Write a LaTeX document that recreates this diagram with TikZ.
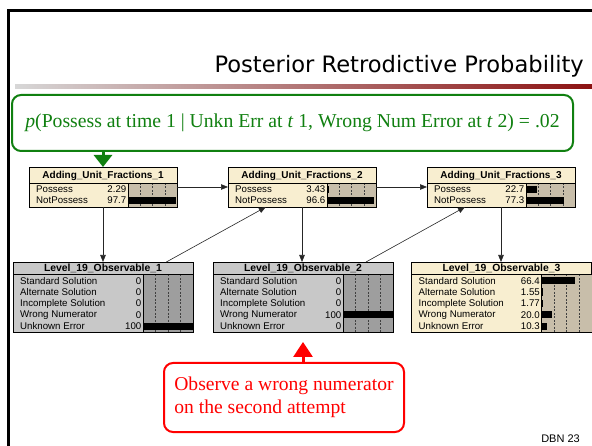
\documentclass[tikz,border=0pt]{standalone}
\usepackage{fontspec}
\setmainfont{Liberation Serif}
\newfontfamily\netfont{Liberation Sans}
\newfontfamily\headfont{DejaVu Sans}
\usetikzlibrary{arrows.meta,calc}

\definecolor{cream}{RGB}{248,238,208}
\definecolor{tanbar}{RGB}{200,190,170}
\definecolor{obsgray}{RGB}{200,200,200}
\definecolor{obsbar}{RGB}{158,158,158}
\definecolor{callgreen}{RGB}{16,128,16}
\definecolor{callred}{RGB}{255,0,0}
\definecolor{rulegray}{RGB}{215,215,215}
\definecolor{rulered}{RGB}{140,18,18}

\tikzset{
  netbox/.style={draw=black, line width=0.8pt, anchor=north west, inner sep=0pt, outer sep=0pt},
  nettitle/.style={inner sep=0pt},
  rowlabel/.style={font=\netfont\fontsize{9.7}{11}\selectfont, anchor=west, inner sep=0pt},
  rowvalue/.style={font=\netfont\fontsize{9.7}{11}\selectfont, anchor=east, inner sep=0pt},
  gridline/.style={dash pattern=on 2pt off 1.5pt, line width=0.5pt, draw=black!75},
  link/.style={-{Triangle[length=7pt,width=5.5pt]}, line width=0.6pt, draw=black!85},
  callout/.style={rounded corners=9pt, line width=2pt, inner sep=0pt},
}

% one belief-net node: name, width, height, title height, body fill, bar fill, title font, title
% (bar column starts at \barx, in the local frame of the enclosing scope)
\newcommand\netbox[8]{%
  \node[netbox, fill=#5, minimum width=#2pt, minimum height=#3pt] (#1) at (0,0) {};
  \fill[#6] (\barx,#4) rectangle (#2,#3);
  \foreach \k in {1,2,3}
    \draw[gridline] ({\barx+(#2-\barx)*\k/4},#4) -- ({\barx+(#2-\barx)*\k/4},#3);
  \draw[line width=0.8pt] (0,#4) -- (#2,#4);
  \draw[line width=0.8pt] (\barx,#4) -- (\barx,#3);
  \node[nettitle, font=#7] (#1-t) at ({#2/2},{#4/2+0.5}) {#8};
}
% one state row: name, y centre, label, value, percent
\newcommand\netrow[5]{%
  \node[rowlabel] (#1-l) at (7,#2) {#3};
  \node[rowvalue] (#1-v) at ({\barx-1.5},#2) {#4};
  \fill[black] (\barx,{#2-3.6}) rectangle ({\barx+(\barend-\barx)*#5/100},{#2+3.6});
}

\begin{document}
\begin{tikzpicture}[x=1pt,y=-1pt]
\useasboundingbox (0,0) rectangle (592,446);
\fill[white] (0,0) rectangle (592,446);

% slide frame and heading
\draw[line width=3pt] (8.5,446) -- (8.5,11) -- (592,11);
\node[anchor=base east, inner sep=0pt, font=\headfont\fontsize{22.6}{27}\selectfont] (title) at (584,73) {Posterior Retrodictive Probability};
\shade[left color=rulegray, right color=rulered] (15,85) rectangle (592,89);

% skill nodes
\def\barx{99}\def\barend{148}
\begin{scope}[shift={(29,167)}]
  \netbox{auf1}{148}{40}{16}{cream}{tanbar}{\netfont\bfseries\fontsize{10}{12}\selectfont}{Adding\_Unit\_Fractions\_1}
  \netrow{auf1-a}{22.5}{Possess}{2.29}{2.29}
  \netrow{auf1-b}{33.5}{NotPossess}{97.7}{97.7}
\end{scope}
\begin{scope}[shift={(228,167)}]
  \netbox{auf2}{148}{40}{16}{cream}{tanbar}{\netfont\bfseries\fontsize{10}{12}\selectfont}{Adding\_Unit\_Fractions\_2}
  \netrow{auf2-a}{22.5}{Possess}{3.43}{3.43}
  \netrow{auf2-b}{33.5}{NotPossess}{96.6}{96.6}
\end{scope}
\begin{scope}[shift={(427,167)}]
  \netbox{auf3}{148}{40}{16}{cream}{tanbar}{\netfont\bfseries\fontsize{10}{12}\selectfont}{Adding\_Unit\_Fractions\_3}
  \netrow{auf3-a}{22.5}{Possess}{22.7}{22.7}
  \netrow{auf3-b}{33.5}{NotPossess}{77.3}{77.3}
\end{scope}

% observable nodes
\def\barx{130}\def\barend{180}
\begin{scope}[shift={(13,262)}]
  \netbox{obs1}{180}{70}{12.5}{obsgray}{obsbar}{\netfont\bfseries\fontsize{10.4}{12}\selectfont}{Level\_19\_Observable\_1}
  \netrow{obs1-a}{18.7}{Standard Solution}{0}{0}
  \netrow{obs1-b}{30.1}{Alternate Solution}{0}{0}
  \netrow{obs1-c}{41.5}{Incomplete Solution}{0}{0}
  \netrow{obs1-d}{52.9}{Wrong Numerator}{0}{0}
  \netrow{obs1-e}{64.3}{Unknown Error}{100}{100}
\end{scope}
\begin{scope}[shift={(213,262)}]
  \netbox{obs2}{180}{70}{12.5}{obsgray}{obsbar}{\netfont\bfseries\fontsize{10.4}{12}\selectfont}{Level\_19\_Observable\_2}
  \netrow{obs2-a}{18.7}{Standard Solution}{0}{0}
  \netrow{obs2-b}{30.1}{Alternate Solution}{0}{0}
  \netrow{obs2-c}{41.5}{Incomplete Solution}{0}{0}
  \netrow{obs2-d}{52.9}{Wrong Numerator}{100}{100}
  \netrow{obs2-e}{64.3}{Unknown Error}{0}{0}
\end{scope}
\begin{scope}[shift={(411.5,262)}]
  \netbox{obs3}{180}{70}{12.5}{cream}{tanbar}{\netfont\bfseries\fontsize{10.4}{12}\selectfont}{Level\_19\_Observable\_3}
  \netrow{obs3-a}{18.7}{Standard Solution}{66.4}{66.4}
  \netrow{obs3-b}{30.1}{Alternate Solution}{1.55}{1.55}
  \netrow{obs3-c}{41.5}{Incomplete Solution}{1.77}{1.77}
  \netrow{obs3-d}{52.9}{Wrong Numerator}{20.0}{20.0}
  \netrow{obs3-e}{64.3}{Unknown Error}{10.3}{10.3}
\end{scope}

% links of the dynamic net
\draw[link] (auf1.east) -- (auf2.west);
\draw[link] (auf2.east) -- (auf3.west);
\draw[link] (auf1.south) -- (auf1.south |- obs1.north);
\draw[link] (auf2.south) -- (auf2.south |- obs2.north);
\draw[link] (auf3.south) -- (auf3.south |- obs3.north);
\draw[link] (obs1) -- (auf2);
\draw[link] (obs2) -- (auf3);

% query callout
\node[callout, draw=callgreen, text=callgreen, minimum width=561pt, minimum height=56pt,
      font=\fontsize{19.7}{23}\selectfont] (query) at (292.5,123)
  {\textit{p}(Possess at time 1 | Unkn Err at \textit{t} 1, Wrong Num Error at \textit{t} 2) = .02};
\draw[line width=3pt, draw=callgreen, fill=callgreen, -{Triangle[length=12pt,width=18pt]}]
  (query.south -| auf1.north) -- (auf1.north);

% evidence callout
\node[callout, draw=callred, text=callred, minimum width=240pt, minimum height=69pt, align=left,
      font=\fontsize{19.6}{23}\selectfont] (evid) at (284,397.5)
  {Observe a wrong numerator\\on the second attempt};
\draw[line width=3pt, draw=callred, fill=callred, -{Triangle[length=15pt,width=19pt]}]
  (evid.north -| obs2.south) -- ([yshift=-10pt]obs2.south);

% page label
\node[anchor=base east, inner sep=0pt, font=\netfont\fontsize{11}{13}\selectfont] (pageno) at (580,442) {DBN 23};
\end{tikzpicture}
\end{document}
